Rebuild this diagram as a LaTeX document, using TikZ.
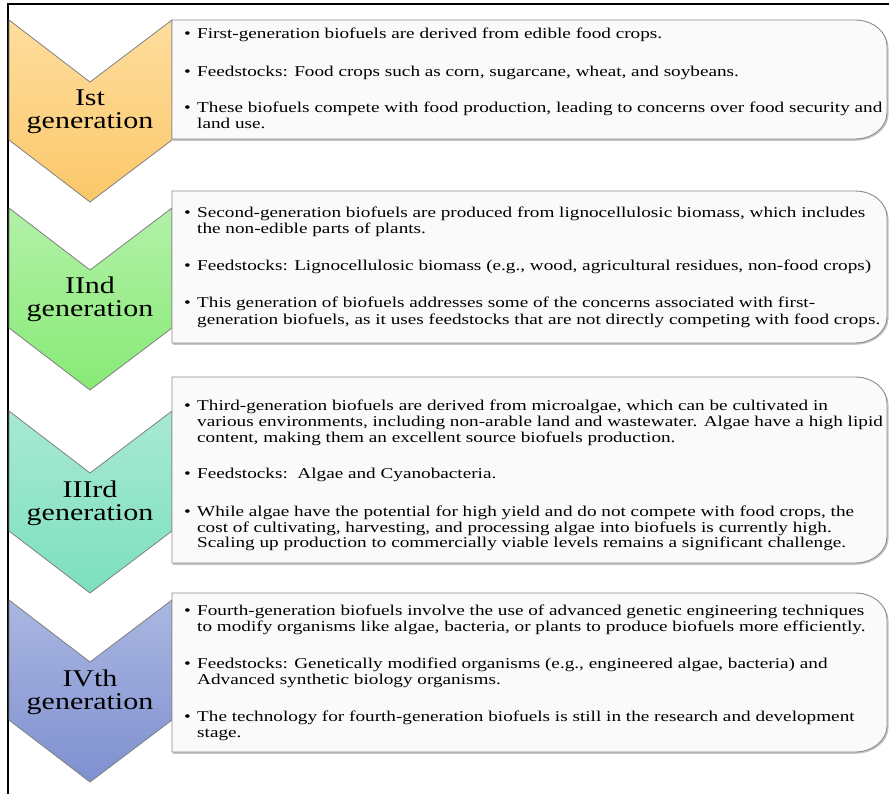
\documentclass[tikz,border=0pt]{standalone}
\usepackage{fontspec}
\setmainfont{Liberation Serif}
\newfontfamily\bodyfont{Liberation Serif}[FakeStretch=1.28]
\newfontfamily\labfont{Liberation Serif}[FakeStretch=1.25]
\definecolor{chevline}{HTML}{808080}
\definecolor{boxline}{HTML}{8C8C8C}
\definecolor{boxfill}{HTML}{FAFAFA}
\definecolor{boxshadow}{HTML}{C4C4C4}
\definecolor{oraT}{HTML}{FEDD9E}
\definecolor{oraB}{HTML}{FBC86A}
\definecolor{grnT}{HTML}{B2F1A8}
\definecolor{grnB}{HTML}{88EA76}
\definecolor{mntT}{HTML}{A8E9D3}
\definecolor{mntB}{HTML}{7CE0BD}
\definecolor{bluT}{HTML}{AAB7E1}
\definecolor{bluB}{HTML}{7F90D0}
\tikzset{
  chevshape/.style={draw=chevline, line width=0.8pt},
  boxshape/.style={draw=boxline, fill=boxfill, line width=0.9pt},
  shadowshape/.style={fill=boxshadow, draw=none},
  labtext/.style={font=\labfont\fontsize{24}{26}\selectfont, anchor=base, inner sep=0pt},
  bodytext/.style={font=\bodyfont\fontsize{15}{16}\selectfont, anchor=base west, inner sep=0pt},
  frameline/.style={line width=2.4pt, black}
}
% chevron: #1 = top y, #2 top colour, #3 bottom colour, #4 name, #5 first label line
\newcommand\chevron[5]{%
  \path[chevshape, top color=#2, bottom color=#3]
    (9,#1) -- (90,{#1+62}) -- (172,#1) -- (172,{#1+120}) -- (90,{#1+182}) -- (9,{#1+120}) -- cycle;
  \node[labtext] (#4a) at (90,{#1+86}) {#5};
  \node[labtext] (#4b) at (90,{#1+109}) {generation};
}
% box: #1 top, #2 bottom
\newcommand\infobox[2]{%
  \path[shadowshape] (173,{#1+1.5}) -- (855,{#1+1.5}) .. controls (873,{#1+1.5}) and (888.5,{#1+13}) .. (888.5,{#1+27.5})
     -- (888.5,{#2-24.5}) .. controls (888.5,{#2-10}) and (873,{#2+1.8}) .. (855,{#2+1.8}) -- (173,{#2+1.8}) -- cycle;
  \path[boxshape] (172,#1) -- (855,#1) .. controls (873,#1) and (887,{#1+12}) .. (887,{#1+26})
     -- (887,{#2-26}) .. controls (887,{#2-12}) and (873,#2) .. (855,#2) -- (172,#2) -- cycle;
}
\newcommand\bul[3]{%
  \node[bodytext] (#1d) at (184,#2) {\textbullet};
  \node[bodytext] (#1) at (197,#2) {#3};
}
\newcommand\cont[3]{%
  \node[bodytext] (#1) at (197,#2) {#3};
}
\begin{document}
\begin{tikzpicture}[x=1pt,y=-1pt]
\useasboundingbox (0,0) rectangle (889,794);
\fill[white] (0,0) rectangle (889,794);
\draw[frameline] (8,795) -- (8,4) -- (890,4);

\chevron{20}{oraT}{oraB}{c1}{Ist}
\chevron{208}{grnT}{grnB}{c2}{IInd}
\chevron{411}{mntT}{mntB}{c3}{IIIrd}
\chevron{600}{bluT}{bluB}{c4}{IVth}

\infobox{20}{139}
\infobox{191}{343}
\infobox{377}{563}
\infobox{593}{752}

% box 1
\bul{t11}{39}{First-generation biofuels are derived from edible food crops.}
\bul{t12}{77}{Feedstocks: Food crops such as corn, sugarcane, wheat, and soybeans.}
\bul{t13}{113}{These biofuels compete with food production, leading to concerns over food security and}
\cont{t13b}{129}{land use.}
% box 2
\bul{t21}{218}{Second-generation biofuels are produced from lignocellulosic biomass, which includes}
\cont{t21b}{234}{the non-edible parts of plants.}
\bul{t22}{271}{Feedstocks: Lignocellulosic biomass (e.g., wood, agricultural residues, non-food crops)}
\bul{t23}{308}{This generation of biofuels addresses some of the concerns associated with first-}
\cont{t23b}{325}{generation biofuels, as it uses feedstocks that are not directly competing with food crops.}
% box 3
\bul{t31}{410}{Third-generation biofuels are derived from microalgae, which can be cultivated in}
\cont{t31b}{426}{various environments, including non-arable land and wastewater. Algae have a high lipid}
\cont{t31c}{442}{content, making them an excellent source biofuels production.}
\bul{t32}{478}{Feedstocks:\ \ Algae and Cyanobacteria.}
\bul{t33}{516}{While algae have the potential for high yield and do not compete with food crops, the}
\cont{t33b}{532}{cost of cultivating, harvesting, and processing algae into biofuels is currently high.}
\cont{t33c}{547}{Scaling up production to commercially viable levels remains a significant challenge.}
% box 4
\bul{t41}{615}{Fourth-generation biofuels involve the use of advanced genetic engineering techniques}
\cont{t41b}{631}{to modify organisms like algae, bacteria, or plants to produce biofuels more efficiently.}
\bul{t42}{668}{Feedstocks: Genetically modified organisms (e.g., engineered algae, bacteria) and}
\cont{t42b}{684}{Advanced synthetic biology organisms.}
\bul{t43}{721}{The technology for fourth-generation biofuels is still in the research and development}
\cont{t43b}{737}{stage.}
\end{tikzpicture}
\end{document}
